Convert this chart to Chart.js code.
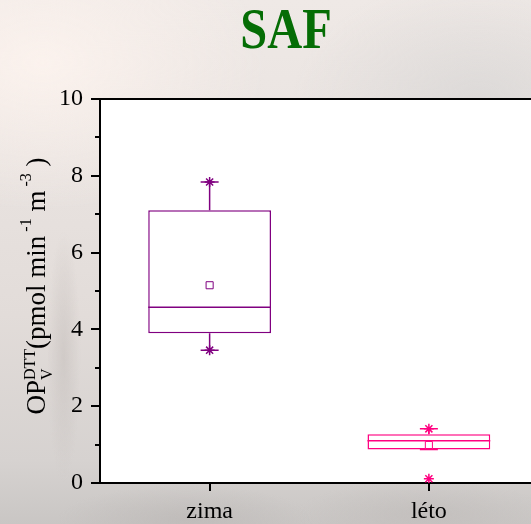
<!DOCTYPE html>
<html>
<head>
<meta charset="utf-8">
<script src="https://cdn.jsdelivr.net/npm/chart.js@4/dist/chart.umd.min.js"></script>
<style>
  html, body { margin: 0; padding: 0; width: 531px; height: 524px; overflow: hidden; }
  body {
    background:
      radial-gradient(ellipse 60% 40% at 8% 12%, rgba(252,243,238,0.95), rgba(252,243,238,0) 70%),
      radial-gradient(ellipse 50% 35% at 90% 20%, rgba(216,214,213,0.8), rgba(216,214,213,0) 70%),
      radial-gradient(ellipse 4% 30% at 12% 68%, rgba(196,190,187,0.55), rgba(196,190,187,0) 80%),
      radial-gradient(ellipse 30% 8% at 35% 99%, rgba(185,181,179,0.6), rgba(185,181,179,0) 80%),
      radial-gradient(ellipse 30% 8% at 80% 98%, rgba(190,186,184,0.6), rgba(190,186,184,0) 80%),
      linear-gradient(to bottom, #efe9e6 0%, #e9e3e0 30%, #e2dcd9 60%, #d6d2d0 88%, #c9c6c4 100%);
  }
  canvas { position: absolute; left: 0; top: 0; }
</style>
</head>
<body>
<canvas id="chart" width="545" height="524"></canvas>
<script>
// Seasonal box plot of volume-normalised DTT oxidative potential
const categories = ['zima', 'léto'];
const boxColors = ['#800080', '#ff0080'];

const q1 = [3.90, 0.87];
const q3 = [7.10, 1.27];
const median = [4.58, 1.10];
const mean = [5.15, 0.99];
const whiskerLow = [3.46, 0.87];
const whiskerHigh = [7.84, 1.41];
const minimum = [3.46, 0.11];
const maximum = [7.84, 1.41];

const yTickValues = [0, 2, 4, 6, 8, 10];
const yMinorValues = [1, 3, 5, 7, 9];

const serif = '"Liberation Serif", "Times New Roman", serif';

// White plot area behind the boxes
const plotBackground = {
  id: 'plotBackground',
  beforeDraw(chart) {
    const { ctx, chartArea: a } = chart;
    ctx.save();
    ctx.fillStyle = '#ffffff';
    ctx.fillRect(a.left, a.top, a.right - a.left, a.bottom - a.top);
    ctx.restore();
  }
};

// Median lines, whiskers and caps, drawn right after the boxes
const boxDetails = {
  id: 'boxDetails',
  afterDatasetDraw(chart, args) {
    if (args.index !== 0) return;
    const ctx = chart.ctx;
    const y = chart.scales.y;
    const meta = chart.getDatasetMeta(0);
    ctx.save();
    ctx.lineWidth = 1.5;
    categories.forEach((c, i) => {
      const bar = meta.data[i];
      const cx = bar.x;
      const half = bar.width / 2;
      const capHalf = 9;
      ctx.strokeStyle = boxColors[i];
      ctx.beginPath();
      // median
      ctx.moveTo(cx - half, y.getPixelForValue(median[i]));
      ctx.lineTo(cx + half, y.getPixelForValue(median[i]));
      // upper whisker + cap
      ctx.moveTo(cx, y.getPixelForValue(q3[i]));
      ctx.lineTo(cx, y.getPixelForValue(whiskerHigh[i]));
      ctx.moveTo(cx - capHalf, y.getPixelForValue(whiskerHigh[i]));
      ctx.lineTo(cx + capHalf, y.getPixelForValue(whiskerHigh[i]));
      // lower whisker + cap
      ctx.moveTo(cx, y.getPixelForValue(q1[i]));
      ctx.lineTo(cx, y.getPixelForValue(whiskerLow[i]));
      ctx.moveTo(cx - capHalf, y.getPixelForValue(whiskerLow[i]));
      ctx.lineTo(cx + capHalf, y.getPixelForValue(whiskerLow[i]));
      ctx.stroke();
    });
    ctx.restore();
  }
};

// Frame top line, tick marks, title and rotated y-axis title
const frameAndText = {
  id: 'frameAndText',
  afterDraw(chart) {
    const { ctx, chartArea: a } = chart;
    const x = chart.scales.x, y = chart.scales.y;
    ctx.save();
    ctx.strokeStyle = '#000';
    ctx.lineWidth = 2;
    ctx.beginPath();
    ctx.moveTo(a.left - 1, a.top);
    ctx.lineTo(a.right + 4, a.top);
    yTickValues.forEach(v => {
      const p = Math.round(y.getPixelForValue(v));
      ctx.moveTo(a.left - 9, p);
      ctx.lineTo(a.left, p);
    });
    yMinorValues.forEach(v => {
      const p = Math.round(y.getPixelForValue(v));
      ctx.moveTo(a.left - 5, p);
      ctx.lineTo(a.left, p);
    });
    categories.forEach((c, i) => {
      const p = Math.round(x.getPixelForValue(i));
      ctx.moveTo(p, a.bottom);
      ctx.lineTo(p, a.bottom + 8);
    });
    ctx.stroke();

    // Title
    ctx.save();
    ctx.translate(286, 48);
    ctx.scale(0.85, 1);
    ctx.fillStyle = '#056d05';
    ctx.font = 'bold 57px ' + serif;
    ctx.textAlign = 'center';
    ctx.textBaseline = 'alphabetic';
    ctx.fillText('SAF', 0, 0);
    ctx.restore();

    // Y-axis title with super/subscripts
    const big = '27px ' + serif, small = '16px ' + serif;
    const parts = [
      { t: 'OP', f: big, dy: 0 },
      { t: 'DTT', f: small, dy: -10, sub: 'V', subDy: 7 },
      { t: '(pmol min', f: big, dy: 0 },
      { t: ' -1', f: small, dy: -14 },
      { t: ' m', f: big, dy: 0 },
      { t: ' -3', f: small, dy: -14 },
      { t: ' )', f: big, dy: 0 }
    ];
    let total = 0;
    parts.forEach(p => { ctx.font = p.f; p.w = ctx.measureText(p.t).width; total += p.w; });
    ctx.translate(45, 286);
    ctx.rotate(-Math.PI / 2);
    ctx.fillStyle = '#000';
    ctx.textBaseline = 'alphabetic';
    ctx.textAlign = 'left';
    let u = -total / 2;
    parts.forEach(p => {
      ctx.font = p.f;
      ctx.fillText(p.t, u, p.dy);
      if (p.sub) ctx.fillText(p.sub, u, p.subDy);
      u += p.w;
    });
    ctx.restore();
  }
};

new Chart(document.getElementById('chart'), {
  type: 'bar',
  data: {
    labels: categories,
    datasets: [
      {
        type: 'bar',
        label: 'box',
        data: categories.map((c, i) => [q1[i], q3[i]]),
        backgroundColor: '#ffffff',
        borderColor: boxColors,
        borderWidth: 1.5,
        borderSkipped: false,
        barPercentage: 0.56,
        categoryPercentage: 1,
        order: 3
      },
      {
        type: 'line',
        label: 'mean',
        data: mean,
        showLine: false,
        pointStyle: 'rect',
        pointRadius: 5,
        pointBorderWidth: 1,
        pointBackgroundColor: '#ffffff',
        pointBorderColor: boxColors,
        order: 1
      },
      {
        type: 'line',
        label: 'max',
        data: maximum,
        showLine: false,
        pointStyle: 'star',
        pointRadius: 5,
        pointBorderWidth: 1.5,
        pointBorderColor: boxColors,
        pointBackgroundColor: boxColors,
        order: 0
      },
      {
        type: 'line',
        label: 'min',
        data: minimum,
        showLine: false,
        pointStyle: 'star',
        pointRadius: 5,
        pointBorderWidth: 1.5,
        pointBorderColor: boxColors,
        pointBackgroundColor: boxColors,
        order: 0
      }
    ]
  },
  options: {
    responsive: false,
    animation: false,
    events: [],
    layout: { padding: { left: 0, top: 99, right: 4, bottom: 0 } },
    plugins: { legend: { display: false }, title: { display: false }, tooltip: { enabled: false } },
    scales: {
      x: {
        type: 'category',
        offset: true,
        grid: { display: false, drawTicks: false },
        border: { display: true, color: '#000', width: 2 },
        ticks: { color: '#000', font: { family: serif, size: 24, lineHeight: 1.2 }, padding: 14, maxRotation: 0 },
        afterFit(scale) { scale.height = 41; }
      },
      y: {
        min: 0,
        max: 10,
        grid: { display: false, drawTicks: false },
        border: { display: true, color: '#000', width: 2 },
        ticks: { stepSize: 2, color: '#000', font: { family: serif, size: 24 }, padding: 17 },
        afterFit(scale) { scale.width = 100; }
      }
    }
  },
  plugins: [plotBackground, boxDetails, frameAndText]
});
</script>
</body>
</html>
